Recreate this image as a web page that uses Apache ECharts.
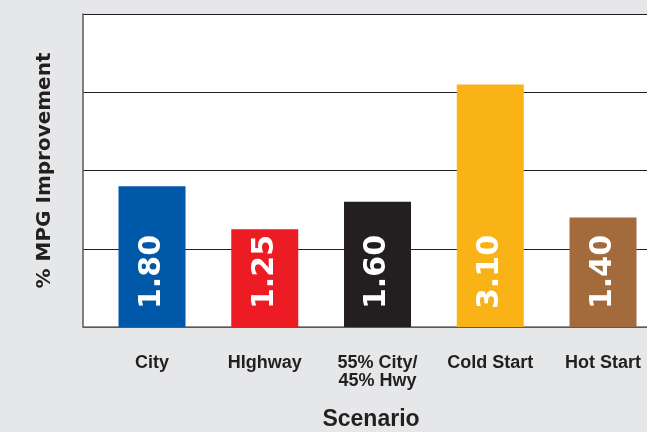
<!DOCTYPE html>
<html>
<head>
<meta charset="utf-8">
<script src="https://cdn.jsdelivr.net/npm/echarts@6/dist/echarts.min.js"></script>
<style>
html,body{margin:0;padding:0;background:#e6e7e8;}
#chart{width:647px;height:432px;}
</style>
</head>
<body>
<div id="chart"></div>
<script>
const categories = ["City", "HIghway", "55% City/\n45% Hwy", "Cold Start", "Hot Start"];
const values = [1.80, 1.25, 1.60, 3.10, 1.40];
const barColors = ["#0059a8", "#ed1c24", "#231f20", "#f9b317", "#a36b3c"];
const yTicks = [0, 1, 2, 3, 4];

const FONT = '"Liberation Sans", Arial, Helvetica, sans-serif';
const FONT2 = '"DejaVu Sans", "Liberation Sans", sans-serif';
const chart = echarts.init(document.getElementById('chart'));
chart.setOption({
  backgroundColor: '#e6e7e8',
  animation: false,
  grid: {
    left: 83, right: 0, top: 14, bottom: 105,
    outerBoundsMode: 'none',
    containLabel: false,
    show: true, backgroundColor: '#ffffff', borderWidth: 0
  },
  xAxis: {
    type: 'value',
    min: -0.612, max: 4.39,
    axisLine: { show: true, onZero: false, lineStyle: { color: '#6d6e71', width: 1.5 } },
    axisTick: { show: false },
    splitLine: { show: false },
    axisLabel: {
      customValues: categories.map((c, i) => i),
      formatter: v => categories[Math.round(v)],
      fontFamily: FONT, fontWeight: 'bold', fontSize: 18, color: '#231f20',
      lineHeight: 18, margin: 27, align: 'center'
    },
    name: 'Scenario',
    nameLocation: 'middle',
    nameGap: 81,
    nameTextStyle: { fontFamily: FONT, fontWeight: 'bold', fontSize: 23, color: '#231f20', padding: [0, 0, 0, 12] }
  },
  yAxis: {
    type: 'value',
    min: yTicks[0], max: yTicks[yTicks.length - 1], interval: 1,
    axisLine: { show: true, onZero: false, lineStyle: { color: '#58595b', width: 1.5 } },
    axisTick: { show: false },
    axisLabel: { show: false },
    splitLine: { show: true, lineStyle: { color: '#231f20', width: 1.2 } },
    name: '% MPG Improvement',
    nameLocation: 'middle',
    nameGap: 28,
    nameTextStyle: { fontFamily: FONT2, fontWeight: 'bold', fontSize: 20, color: '#231f20' }
  },
  series: [{
    type: 'bar',
    barWidth: 67,
    data: values.map((v, i) => ({ value: [i, v], itemStyle: { color: barColors[i] } })),
    label: {
      show: true,
      position: 'insideBottom',
      rotate: 90,
      align: 'left',
      verticalAlign: 'middle',
      distance: 18,
      formatter: p => p.value[1].toFixed(2),
      fontFamily: FONT2, fontWeight: 'bold', fontSize: 30, color: '#ffffff'
    }
  }]
});
</script>
</body>
</html>
